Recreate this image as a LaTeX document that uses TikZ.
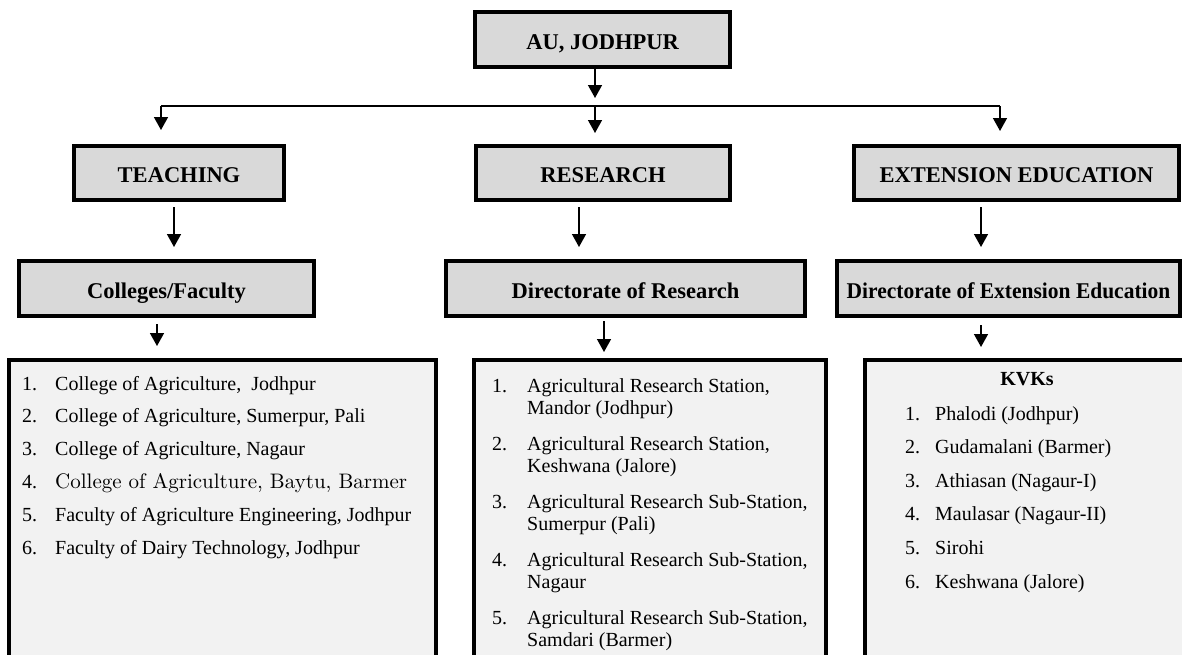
\documentclass[tikz,border=0pt]{standalone}
\usepackage{fontspec}
\setmainfont{Liberation Serif}
\newfontfamily\cmfont{lmroman10-regular.otf}
\usetikzlibrary{
	positioning			% relative placement
	, arrows.meta		% Triangle arrow tips
	, calc
}

\definecolor{boxgray}{HTML}{D9D9D9}
\definecolor{listgray}{HTML}{F2F2F2}

\begin{document}
\begin{tikzpicture}[x=1pt, y=-1pt,
			element/.style={
				rectangle,
				draw=black, line width=4pt,
				fill=boxgray,
				inner sep=0pt,
				text height=19pt, text depth=0pt,
				text centered,
				font=\fontsize{22.5}{24}\selectfont\bfseries
			},
			listbox/.style={
				rectangle,
				draw=black, line width=4pt,
				fill=listgray,
				inner sep=0pt
			},
			entry/.style={
				anchor=base west,
				inner sep=0pt,
				font=\fontsize{20}{22}\selectfont
			},
			arrow/.style={
				-{Triangle[width=14pt,length=13pt]},
				line width=1.5pt
			},
			bus/.style={
				line width=2pt
			}]

			\useasboundingbox (0,0) rectangle (1182,654);

			%%% Top of the tree
			\node [element, minimum width=255pt, minimum height=55pt] (au) at (602.5,39.5) {AU, JODHPUR};

			%%% The three wings
			\node [element, minimum width=210pt, minimum height=54pt] (teach) at (179,173) {TEACHING};
			\node [element, minimum width=254pt, minimum height=54pt] (res) at (603,173) {RESEARCH};
			\node [element, minimum width=325pt, minimum height=54pt] (ext) at (1016.5,173) {EXTENSION EDUCATION};

			%%% Directorates
			\node [element, minimum width=295pt, minimum height=55pt] (coll) at (166.5,288.5) {Colleges/Faculty};
			\node [element, minimum width=359pt, minimum height=55pt] (dirRes) at (625.5,288.5) {Directorate of Research};
			\node [element, minimum width=343pt, minimum height=55pt] (dirExt) at (1008.5,288.5) {\scalebox{0.955}[1]{Directorate of Extension Education}};

			%%% Lists (they run off the bottom of the page)
			\node [listbox, minimum width=427pt, minimum height=308pt] (collList) at (222.5,514) {};
			\node [listbox, minimum width=352pt, minimum height=308pt] (resList) at (650,514) {};
			\node [listbox, minimum width=323pt, minimum height=308pt] (kvkList) at (1026.5,514) {};

			% Colleges
			\foreach [count=\i] \college in {
				{College of Agriculture,\ \ Jodhpur},
				{College of Agriculture, Sumerpur, Pali},
				{College of Agriculture, Nagaur},
				{{\cmfont\fontsize{21}{22}\selectfont College of Agriculture, Baytu, Barmer}},
				{Faculty of Agriculture Engineering, Jodhpur},
				{Faculty of Dairy Technology, Jodhpur}} {
				\node [entry] (collItem\i) at (22,{390+32.8*(\i-1)}) {\makebox[33pt][l]{\i.}\college};
			};

			% Research stations, two lines each
			\foreach [count=\i] \station/\place in {
				Agricultural Research Station/Mandor (Jodhpur),
				Agricultural Research Station/Keshwana (Jalore),
				Agricultural Research Sub-Station/Sumerpur (Pali),
				Agricultural Research Sub-Station/Nagaur,
				Agricultural Research Sub-Station/Samdari (Barmer)} {
				\node [entry] (resNum\i) at (492,{392+58*(\i-1)}) {\i.};
				\node [entry] (resItem\i) at (527,{392+58*(\i-1)}) {\station,};
				\node [entry] (resPlace\i) at (527,{414+58*(\i-1)}) {\place};
			};

			% KVKs
			\node [entry, anchor=base, font=\fontsize{20}{22}\selectfont\bfseries] (kvkTitle) at (1027,385) {KVKs};
			\foreach [count=\i] \kvk in {Phalodi (Jodhpur), Gudamalani (Barmer), Athiasan (Nagaur-I),
				Maulasar (Nagaur-II), Sirohi, Keshwana (Jalore)} {
				\node [entry] (kvkItem\i) at (905,{420+33.6*(\i-1)}) {\makebox[30pt][l]{\i.}\kvk};
			};

			%%% Connectors
			\coordinate (busL) at (161,106);
			\coordinate (busM) at (595,106);
			\coordinate (busR) at (1000,106);

			\draw [arrow, shorten >=8pt] ([xshift=-7.5pt]au.south) -- (busM);
			\draw [bus] (busL) -- (busR);

			\draw [arrow, shorten >=14pt] (busL) -- (busL |- teach.north);
			\draw [arrow, shorten >=11pt] (busM) -- (busM |- res.north);
			\draw [arrow, shorten >=13pt] (busR) -- (busR |- ext.north);

			\draw [arrow, shorten <=5pt, shorten >=12pt] ([xshift=-5pt]teach.south) -- ([xshift=-5pt]teach.south |- coll.north);
			\draw [arrow, shorten <=5pt, shorten >=12pt] ([xshift=-24pt]res.south) -- ([xshift=-24pt]res.south |- dirRes.north);
			\draw [arrow, shorten <=5pt, shorten >=12pt] ([xshift=-35.5pt]ext.south) -- ([xshift=-35.5pt]ext.south |- dirExt.north);

			\draw [arrow, shorten <=6pt, shorten >=12pt] ([xshift=-9.5pt]coll.south) -- ([xshift=-9.5pt]coll.south |- collList.north);
			\draw [arrow, shorten <=3pt, shorten >=6pt] ([xshift=-21.5pt]dirRes.south) -- ([xshift=-21.5pt]dirRes.south |- resList.north);
			\draw [arrow, shorten <=7pt, shorten >=11pt] ([xshift=-27.5pt]dirExt.south) -- ([xshift=-27.5pt]dirExt.south |- kvkList.north);

		\end{tikzpicture}
\end{document}
